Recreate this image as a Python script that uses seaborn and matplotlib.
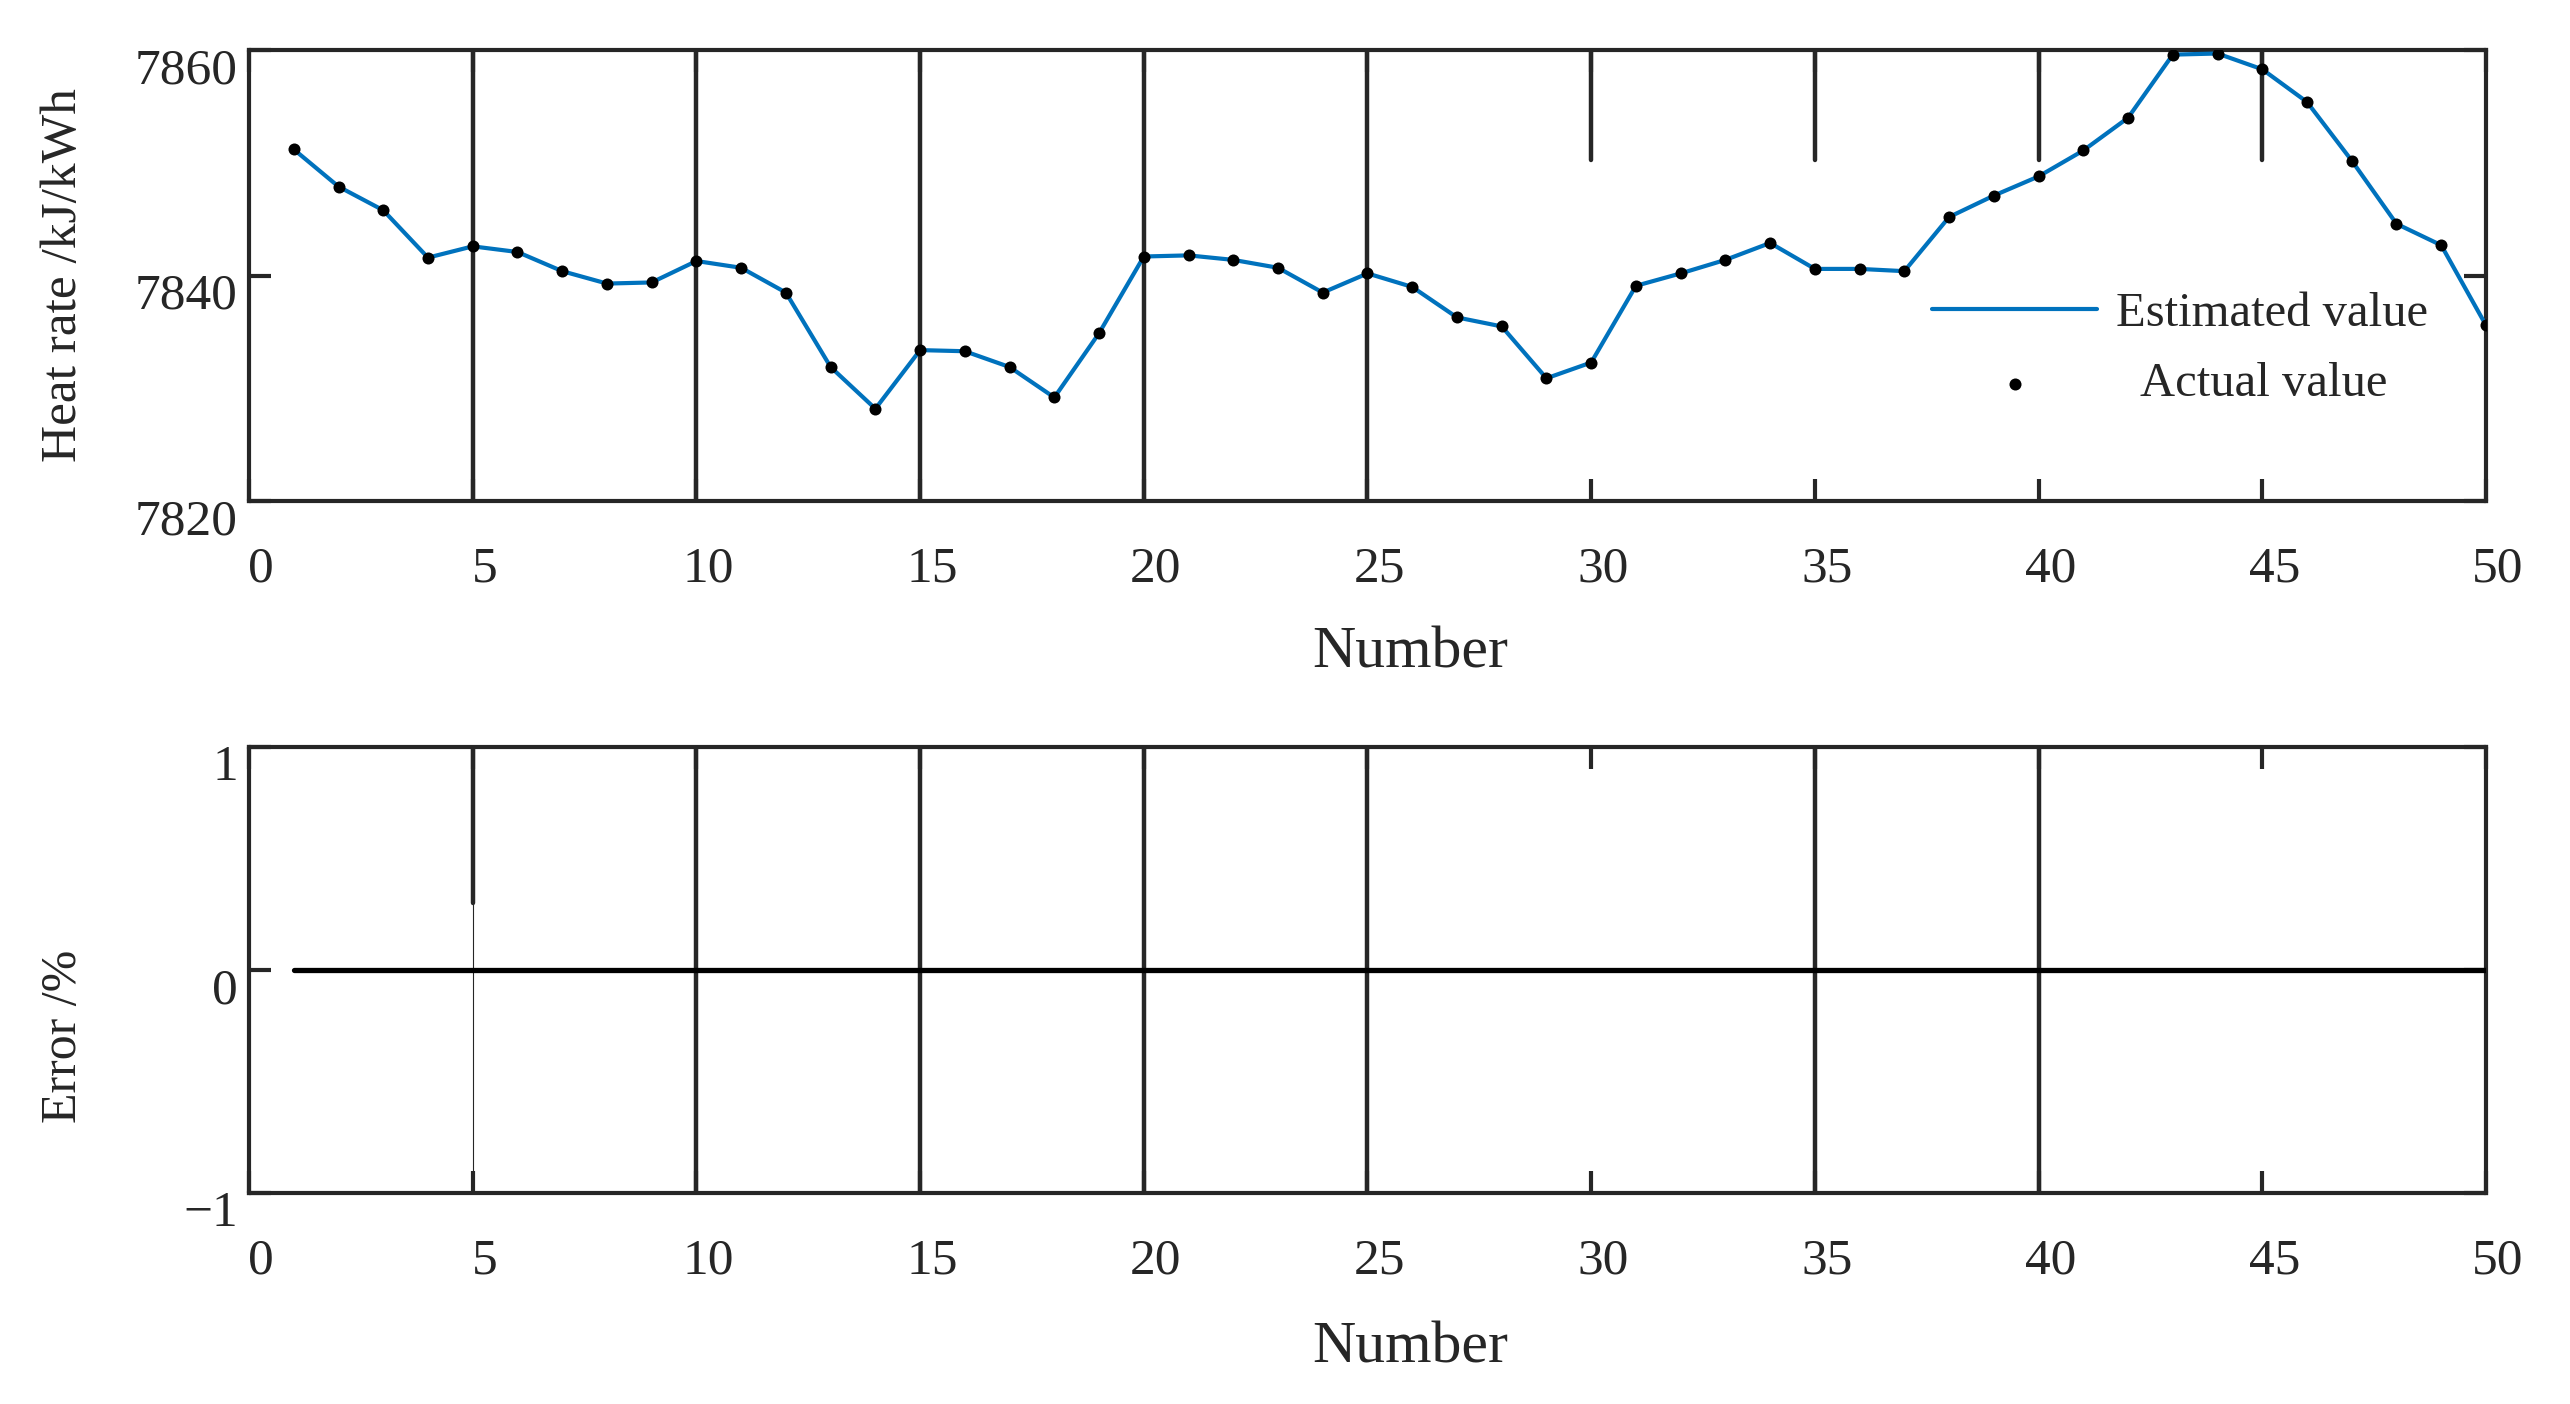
import numpy as np
import pandas as pd
import matplotlib
matplotlib.use("Agg")
import matplotlib.pyplot as plt
import matplotlib.transforms as mtransforms
import seaborn as sns

# Data
number = list(range(1, 51))
actual = [7851.2, 7847.9, 7845.8, 7841.6, 7842.6, 7842.1, 7840.4, 7839.3, 7839.4, 7841.3,
          7840.7, 7838.5, 7831.9, 7828.2, 7833.4, 7833.3, 7831.9, 7829.2, 7834.9, 7841.7,
          7841.8, 7841.4, 7840.7, 7838.5, 7840.2, 7839.0, 7836.3, 7835.5, 7830.9, 7832.3,
          7839.1, 7840.2, 7841.4, 7842.9, 7840.6, 7840.6, 7840.4, 7845.2, 7847.1, 7848.8,
          7851.1, 7854.0, 7859.6, 7859.7, 7858.3, 7855.4, 7850.2, 7844.6, 7842.7, 7835.6]
estimated = list(actual)  # estimate coincides with actual at this scale

x_ticks = [0, 5, 10, 15, 20, 25, 30, 35, 40, 45, 50]
top_yticks = [7820, 7840, 7860]
bot_yticks = [-1, 0, 1]

df = pd.DataFrame({"Number": number, "Estimated": estimated, "Actual": actual})
df["Error"] = (df["Estimated"] - df["Actual"]) / df["Actual"] * 100

TXT = "#262626"
BLUE = "#0072BD"

sns.set_theme(style="ticks")
plt.rcParams["font.family"] = ["Liberation Serif", "DejaVu Serif"]
plt.rcParams["text.color"] = TXT
plt.rcParams["axes.labelcolor"] = TXT
plt.rcParams["xtick.color"] = TXT
plt.rcParams["ytick.color"] = TXT
plt.rcParams["axes.unicode_minus"] = True

fig = plt.figure(figsize=(25.7, 14.04), dpi=100)
ax1 = fig.add_axes([0.0969, 0.643, 0.8704, 0.3213])
ax2 = fig.add_axes([0.0969, 0.150, 0.8704, 0.3177])

for ax in (ax1, ax2):
    for s in ax.spines.values():
        s.set_visible(True)
        s.set_color(TXT)
        s.set_linewidth(3)
    ax.tick_params(direction="in", length=16, width=3, top=True, right=True,
                   labelsize=37)
    ax.tick_params(axis="x", pad=32)
    ax.tick_params(axis="y", pad=8)
    ax.set_xlim(0, 50)
    ax.set_xticks(x_ticks)

# top panel: vertical line artifacts
for xv in [5, 10, 15, 20, 25]:
    ax1.axvline(xv, color=TXT, lw=3.2, zorder=1)
for xv in [30, 35, 40, 45]:
    ax1.axvline(xv, ymin=0.757, ymax=1, color=TXT, lw=3.2, zorder=1)

sns.lineplot(data=df, x="Number", y="Estimated", ax=ax1, color=BLUE, lw=3.0,
             label="Estimated value", zorder=3)
sns.scatterplot(data=df, x="Number", y="Actual", ax=ax1, color="black", s=75,
                edgecolor="black", linewidth=0, label="Actual value", zorder=4)
ax1.set_ylim(7820, 7860)
ax1.set_yticks(top_yticks)
ax1.set_xlabel("Number", fontsize=43)
ax1.set_ylabel("Heat rate /kJ/kWh", fontsize=37)
ax1.xaxis.set_label_coords(0.519, -0.277)
ax1.yaxis.set_label_coords(-0.0724, 0.502)

# two separate legends so that the second label sits further right
handles, labels = ax1.get_legend_handles_labels()
ax1.get_legend().remove()
leg1 = ax1.legend(handles[:1], labels[:1], loc="center left",
                  bbox_to_anchor=(0.7524, 0.414), frameon=False, fontsize=35,
                  handlelength=3.4, borderpad=0, borderaxespad=0, handletextpad=0.375)
ax1.add_artist(leg1)
ax1.legend(handles[1:], labels[1:], loc="center left",
           bbox_to_anchor=(0.7524, 0.259), frameon=False, fontsize=35,
           handlelength=3.4, borderpad=0, borderaxespad=0, handletextpad=0.87)

# bottom panel
ax2.axvline(5, ymin=0.65, ymax=1, color=TXT, lw=3.2, zorder=1)
ax2.axvline(5, color=TXT, lw=0.8, zorder=1)
for xv in [10, 15, 20, 25, 35, 40]:
    ax2.axvline(xv, color=TXT, lw=3.2, zorder=1)
sns.lineplot(data=df, x="Number", y="Error", ax=ax2, color="black", lw=3.8, zorder=3)
ax2.set_ylim(-1, 1)
ax2.set_yticks(bot_yticks)
ax2.set_xlabel("Number", fontsize=43)
ax2.set_ylabel("Error /%", fontsize=36)
ax2.xaxis.set_label_coords(0.519, -0.287)
ax2.yaxis.set_label_coords(-0.0724, 0.352)

# tick label placement as in the reference: x labels nudged right,
# y labels hang below their tick
dx = mtransforms.ScaledTranslation(0.12, 0, fig.dpi_scale_trans)
dy = mtransforms.ScaledTranslation(0, -0.33, fig.dpi_scale_trans)
for ax in (ax1, ax2):
    for lbl in ax.get_xticklabels():
        lbl.set_transform(lbl.get_transform() + dx)
    for lbl in ax.get_yticklabels():
        lbl.set_va("baseline")
        lbl.set_transform(lbl.get_transform() + dy)

fig.savefig("out.png", dpi=100)
